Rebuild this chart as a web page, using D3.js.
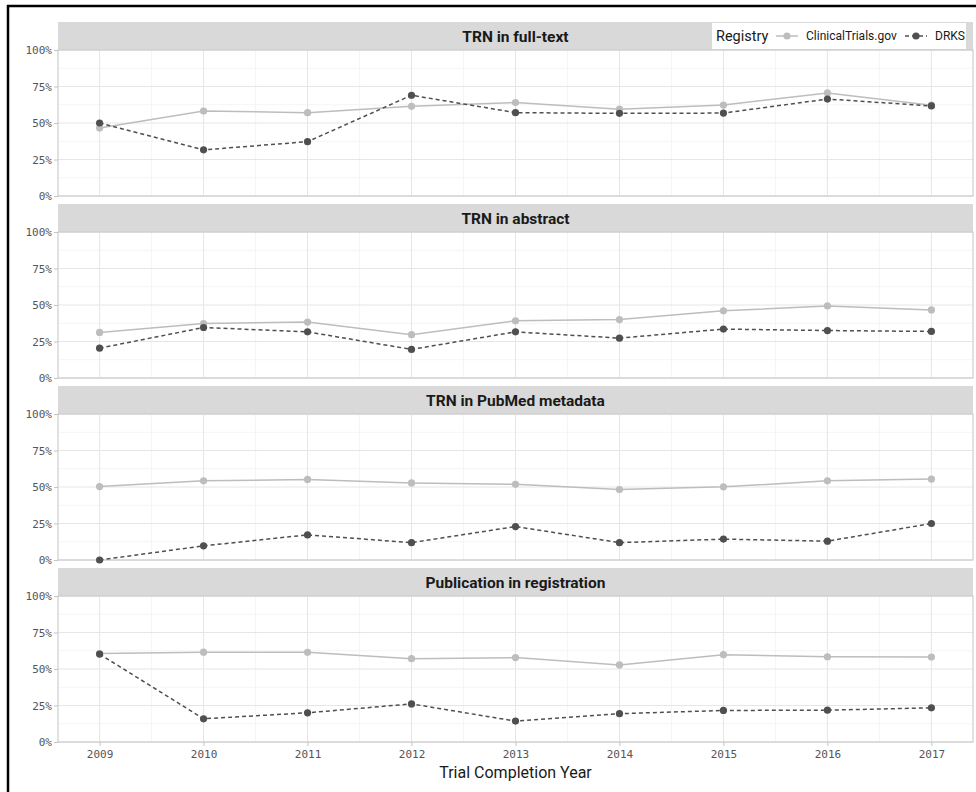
<!DOCTYPE html>
<html>
<head>
<meta charset="utf-8">
<script src="https://cdn.jsdelivr.net/npm/d3@7"></script>
<style>
  body { margin: 0; background: #fff; overflow: hidden; }
  svg { display: block; }
</style>
</head>
<body>
<div id="chart"></div>
<script>
// data (percent)
const years = [2009, 2010, 2011, 2012, 2013, 2014, 2015, 2016, 2017];
const panelTitles = ["TRN in full-text", "TRN in abstract", "TRN in PubMed metadata", "Publication in registration"];
const registries = ["ClinicalTrials.gov", "DRKS"];
const yTicks = [0, 25, 50, 75, 100];

const ctgovFullText  = [46.5, 58.2, 57.1, 61.4, 64.0, 59.5, 62.3, 70.6, 62.2];
const drksFullText   = [50.0, 31.6, 37.2, 69.0, 57.1, 56.6, 56.8, 66.4, 61.7];
const ctgovAbstract  = [31.2, 37.3, 38.3, 29.7, 39.2, 40.0, 46.0, 49.4, 46.6];
const drksAbstract   = [20.4, 34.6, 31.6, 19.6, 31.6, 27.3, 33.5, 32.5, 31.9];
const ctgovPubmed    = [50.3, 54.2, 55.2, 52.8, 51.8, 48.3, 50.1, 54.2, 55.4];
const drksPubmed     = [0.0, 9.7, 17.2, 11.9, 22.9, 11.9, 14.3, 12.9, 25.0];
const ctgovRegistry  = [60.6, 61.5, 61.4, 57.1, 57.8, 52.8, 59.8, 58.4, 58.2];
const drksRegistry   = [60.2, 15.9, 20.0, 26.1, 14.3, 19.4, 21.6, 21.8, 23.4];

const panelSeries = [
  [ctgovFullText, drksFullText],
  [ctgovAbstract, drksAbstract],
  [ctgovPubmed, drksPubmed],
  [ctgovRegistry, drksRegistry]
];

const width = 976, height = 792;
const left = 58, right = 973;
const firstTop = 22, panelStep = 182, stripH = 28, plotH = 146;

const colors = { "ClinicalTrials.gov": "#bdbdbd", "DRKS": "#4f4f4f" };
const dashes = { "ClinicalTrials.gov": null, "DRKS": "4,3" };
const monoFont = "'DejaVu Sans Mono', monospace";
const sansFont = "Roboto, 'Noto Sans', sans-serif";

const svg = d3.select("#chart").append("svg")
  .attr("width", width)
  .attr("height", height);

// outer frame: only the left and top edges show in the reference
svg.append("line")
  .attr("x1", 8).attr("x2", 8).attr("y1", 5).attr("y2", height)
  .attr("stroke", "#000").attr("stroke-width", 2.5);
svg.append("line")
  .attr("x1", 7).attr("x2", width).attr("y1", 6).attr("y2", 6)
  .attr("stroke", "#000").attr("stroke-width", 2.5);

const x = d3.scaleLinear().domain([2008.6, 2017.4]).range([left, right]);
const minorX = d3.range(2009.5, 2017, 1);
const minorY = [12.5, 37.5, 62.5, 87.5];

panelTitles.forEach((title, i) => {
  const top = firstTop + i * panelStep;
  const plotTop = top + stripH;
  const y = d3.scaleLinear().domain([0, 100]).range([plotTop + plotH, plotTop]);
  const g = svg.append("g");

  // strip
  g.append("rect")
    .attr("x", left).attr("y", top)
    .attr("width", right - left).attr("height", stripH)
    .attr("fill", "#d9d9d9");
  g.append("text")
    .attr("x", (left + right) / 2)
    .attr("y", top + stripH / 2 + 5.5)
    .attr("text-anchor", "middle")
    .style("font-family", sansFont)
    .style("font-weight", "bold")
    .style("font-size", "15.5px")
    .attr("fill", "#1a1a1a")
    .text(title);

  // grid
  g.selectAll(".minx").data(minorX).enter().append("line")
    .attr("x1", d => x(d)).attr("x2", d => x(d))
    .attr("y1", plotTop).attr("y2", plotTop + plotH)
    .attr("stroke", "#f2f2f2").attr("stroke-width", 0.8);
  g.selectAll(".miny").data(minorY).enter().append("line")
    .attr("x1", left).attr("x2", right)
    .attr("y1", d => y(d)).attr("y2", d => y(d))
    .attr("stroke", "#f2f2f2").attr("stroke-width", 0.8);
  g.selectAll(".majx").data(years).enter().append("line")
    .attr("x1", d => x(d)).attr("x2", d => x(d))
    .attr("y1", plotTop).attr("y2", plotTop + plotH)
    .attr("stroke", "#e6e6e6").attr("stroke-width", 1);
  g.selectAll(".majy").data(yTicks).enter().append("line")
    .attr("x1", left).attr("x2", right)
    .attr("y1", d => y(d)).attr("y2", d => y(d))
    .attr("stroke", "#e6e6e6").attr("stroke-width", 1);

  // panel border
  g.append("rect")
    .attr("x", left).attr("y", plotTop)
    .attr("width", right - left).attr("height", plotH)
    .attr("fill", "none")
    .attr("stroke", "#c4c4c4").attr("stroke-width", 1);

  // y axis
  const yAxis = d3.axisLeft(y).tickValues(yTicks).tickFormat(d => d + "%").tickSize(4).tickPadding(2);
  const ya = g.append("g").attr("transform", `translate(${left},0)`).call(yAxis);
  ya.select(".domain").remove();
  ya.selectAll("line").attr("stroke", "#c4c4c4");
  ya.selectAll("text")
    .style("font-family", monoFont).style("font-size", "11px")
    .attr("fill", "#555");

  // x axis only on bottom panel
  if (i === panelTitles.length - 1) {
    const xAxis = d3.axisBottom(x).tickValues(years).tickFormat(d3.format("d")).tickSize(4).tickPadding(4);
    const xa = g.append("g").attr("transform", `translate(0,${plotTop + plotH})`).call(xAxis);
    xa.select(".domain").remove();
    xa.selectAll("line").attr("stroke", "#c4c4c4");
    xa.selectAll("text")
      .style("font-family", monoFont).style("font-size", "11px")
      .attr("fill", "#555");
  }

  // lines and points
  const line = d3.line().x((d, j) => x(years[j])).y(d => y(d));
  panelSeries[i].forEach((vals, k) => {
    const reg = registries[k];
    g.append("path")
      .datum(vals)
      .attr("d", line)
      .attr("fill", "none")
      .attr("stroke", colors[reg])
      .attr("stroke-width", 1.5)
      .attr("stroke-dasharray", dashes[reg]);
    g.selectAll(".pt" + k).data(vals).enter().append("circle")
      .attr("cx", (d, j) => x(years[j]))
      .attr("cy", d => y(d))
      .attr("r", 3.6)
      .attr("fill", colors[reg]);
  });
});

// x axis title
svg.append("text")
  .attr("x", (left + right) / 2)
  .attr("y", 778)
  .attr("text-anchor", "middle")
  .style("font-family", sansFont)
  .style("font-size", "16px")
  .attr("fill", "#1a1a1a")
  .text("Trial Completion Year");

// legend, sits over the first strip
const legend = svg.append("g");
legend.append("rect")
  .attr("x", 712).attr("y", 23)
  .attr("width", 254).attr("height", 26)
  .attr("fill", "#fff");
legend.append("text")
  .attr("x", 716).attr("y", 41)
  .style("font-family", sansFont).style("font-size", "14.5px")
  .attr("fill", "#1a1a1a")
  .text("Registry");

const keyX = [776, 905];
const labelX = [806, 935];
registries.forEach((reg, k) => {
  legend.append("line")
    .attr("x1", keyX[k]).attr("x2", keyX[k] + 22)
    .attr("y1", 36).attr("y2", 36)
    .attr("stroke", colors[reg]).attr("stroke-width", 1.5)
    .attr("stroke-dasharray", dashes[reg]);
  legend.append("circle")
    .attr("cx", keyX[k] + 11).attr("cy", 36).attr("r", 3.6)
    .attr("fill", colors[reg]);
  legend.append("text")
    .attr("x", labelX[k]).attr("y", 40)
    .style("font-family", sansFont).style("font-size", "12px")
    .attr("fill", "#1a1a1a")
    .text(reg);
});
</script>
</body>
</html>
